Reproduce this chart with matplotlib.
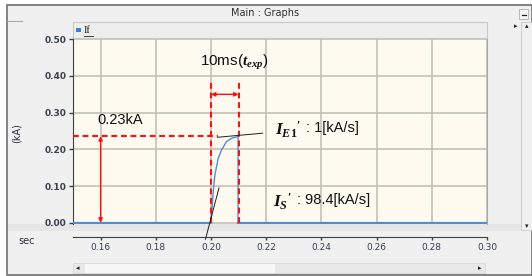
import matplotlib
matplotlib.use("Agg")
import matplotlib.pyplot as plt
from matplotlib import font_manager as fm
from matplotlib.patches import Rectangle

# ---------------- data ----------------
x_ticks = [0.16, 0.18, 0.20, 0.22, 0.24, 0.26, 0.28, 0.30]
x_tick_labels = ["0.16", "0.18", "0.20", "0.22", "0.24", "0.26", "0.28", "0.30"]
y_ticks = [0.0, 0.1, 0.2, 0.3, 0.4, 0.5]
y_tick_labels = ["0.00", "0.10", "0.20", "0.30", "0.40", "0.50"]

# If waveform (kA vs sec)
t_base1 = [0.15, 0.200]
i_base1 = [0.0, 0.0]
t_pulse = [0.2000, 0.2008, 0.2014, 0.2026, 0.2038, 0.2056, 0.2074, 0.2092, 0.2098, 0.2098]
i_pulse = [0.000, 0.084, 0.130, 0.175, 0.198, 0.221, 0.230, 0.234, 0.236, 0.000]
t_base2 = [0.2098, 0.30]
i_base2 = [0.0, 0.0]

peak_kA = 0.236
t_exp_start, t_exp_end = 0.200, 0.210
dashed_top = 0.386
arrow_t_y = 0.35
peak_arrow_x = 0.16
tangent1_t = [0.2024, 0.2187]
tangent1_i = [0.233, 0.244]
tangent2_t = [0.2029, 0.1980]
tangent2_i = [0.095, -0.045]

# ---------------- fonts ----------------
names = {f.name for f in fm.fontManager.ttflist}
narrow = "Liberation Sans Narrow" in names
ann_family = "Liberation Sans Narrow" if narrow else "Liberation Sans"
ann_size = 12 if narrow else 10.5
math_size = 12.5
plt.rcParams["mathtext.fontset"] = "custom"
plt.rcParams["mathtext.it"] = "Liberation Serif:italic:bold"
plt.rcParams["mathtext.rm"] = "Liberation Serif:bold"
plt.rcParams["mathtext.bf"] = "Liberation Serif:bold"

W, H = 532, 276
fig = plt.figure(figsize=(W / 100, H / 100), dpi=100, facecolor="white")

# ---------------- window chrome (pixel coords) ----------------
bg = fig.add_axes([0, 0, 1, 1], zorder=-10)
bg.set_xlim(0, W)
bg.set_ylim(H, 0)
bg.axis("off")
bg.add_patch(Rectangle((7, 5), W - 7, 270, facecolor="#F0F0F0", edgecolor="#6E6E6E", lw=1.2))
bg.text(265, 13, "Main : Graphs", ha="center", va="center", fontsize=7, color="#303030")
bg.plot([7, 22], [20.5, 20.5], color="#A8A8A8", lw=0.8)
# minimize button
bg.add_patch(Rectangle((519, 9), 9, 10, facecolor="#F6F6F6", edgecolor="#B8B8B8", lw=0.7))
bg.plot([521.5, 525.5], [14.5, 14.5], color="#202020", lw=0.9)
# legend strip
bg.add_patch(Rectangle((73, 22), 414, 16, facecolor="#EEEEEE", edgecolor="#C8C8C8", lw=0.8))
bg.add_patch(Rectangle((76, 28), 5, 4, facecolor="#3C7FD6", edgecolor="none"))
bg.text(84, 30.5, "If", fontsize=7.5, family="Liberation Serif", color="#202020", va="center", ha="left")
bg.plot([84, 93], [35.5, 35.5], color="#202020", lw=0.6)
bg.text(516, 26, "\u25B8", fontsize=5, ha="center", va="center", color="#202020")
# right scrollbar
bg.add_patch(Rectangle((521, 22), 11, 208, facecolor="#F0F0F0", edgecolor="#D0D0D0", lw=0.8))
bg.text(527, 26, "\u25B4", fontsize=5, ha="center", va="center", color="#202020")
bg.text(527, 226, "\u25BE", fontsize=5, ha="center", va="center", color="#202020")
# band below plot
bg.add_patch(Rectangle((8, 224), 513, 7, facecolor="#E6E6E6", edgecolor="none"))
# bottom scrollbar
bg.add_patch(Rectangle((73, 263), 412, 10, facecolor="#E8E8E8", edgecolor="#D8D8D8", lw=0.6))
bg.add_patch(Rectangle((85, 263.5), 190, 9, facecolor="#F7F7F7", edgecolor="none"))
bg.text(78, 268, "\u25C2", fontsize=5, ha="center", va="center", color="#202020")
bg.text(480, 268, "\u25B8", fontsize=5, ha="center", va="center", color="#202020")
bg.text(17, 133, "(kA)", rotation=90, fontsize=7, ha="center", va="center", color="#303040")
bg.text(27, 241, "sec", fontsize=7, ha="center", va="center", color="#303040")

# ---------------- main plot ----------------
px_top, px_bot, px_left, px_right = 38.5, 224, 73, 487
ax = fig.add_axes([px_left / W, 1 - px_bot / H, (px_right - px_left) / W, (px_bot - px_top) / H])
ax.set_facecolor("#FFFAF0")
ax.set_xlim(0.15, 0.30)
ax.set_ylim(-0.0035, 0.5022)

ax.set_xticks(x_ticks)
ax.set_xticklabels(x_tick_labels, fontweight="bold")
ax.set_yticks(y_ticks)
ax.set_yticklabels(y_tick_labels, fontweight="bold")
ax.grid(True, color="#C0BCB2", lw=1.1)
ax.set_axisbelow(True)
ax.tick_params(axis="both", labelsize=6.5, labelcolor="#3A4050", color="#404040")
ax.tick_params(axis="y", direction="out", length=3, width=1, pad=1.5)
ax.tick_params(axis="x", direction="out", length=2.5, width=1, pad=2)
ax.spines["top"].set_visible(False)
ax.spines["right"].set_color("#A8A8A8")
ax.spines["left"].set_color("#404040")
ax.spines["bottom"].set_position(("outward", 9))
ax.spines["bottom"].set_color("#404040")

blue = "#4A8EDB"
ax.plot(t_base1, i_base1, color=blue, lw=1.6, zorder=3)
ax.plot(t_base2, i_base2, color=blue, lw=1.6, zorder=3)
ax.plot(t_pulse, i_pulse, color=blue, lw=1.0, zorder=3)

red = "#FF1010"
dash = (0, (2.8, 1.8))
ax.plot([0.15, tangent1_t[0] + 0.0001], [peak_kA, peak_kA], color=red, lw=1.5, ls=dash, zorder=4)
ax.plot([t_exp_start, t_exp_start], [0, dashed_top], color=red, lw=1.5, ls=dash, zorder=4)
ax.plot([t_exp_end, t_exp_end], [0, dashed_top], color=red, lw=1.5, ls=dash, zorder=4)

ax.annotate("", xy=(t_exp_start, arrow_t_y), xytext=(t_exp_end, arrow_t_y),
            arrowprops=dict(arrowstyle="<|-|>", color=red, lw=1.0, mutation_scale=6,
                            shrinkA=0, shrinkB=0), zorder=5)
ax.annotate("", xy=(peak_arrow_x, 0.0), xytext=(peak_arrow_x, peak_kA),
            arrowprops=dict(arrowstyle="<|-|>", color=red, lw=1.0, mutation_scale=6,
                            shrinkA=0, shrinkB=0), zorder=5)

ax.plot(tangent1_t, tangent1_i, color="#202020", lw=0.7, zorder=5, clip_on=False)
ax.plot(tangent2_t, tangent2_i, color="#202020", lw=0.7, zorder=5, clip_on=False)

ax.text(0.1959, 0.438, r"10ms($t_{exp}$)", family=ann_family, fontsize=ann_size + 0.5,
        va="center", ha="left", color="#111111")
ax.text(0.1587, 0.280, "0.23kA", family=ann_family, fontsize=ann_size,
        va="center", ha="left", color="#111111")
ax.text(0.2231, 0.252, r"$I_{E1}{}^{\prime}$", family=ann_family, fontsize=math_size,
        va="center", ha="left", color="#111111")
ax.text(0.2344, 0.258, ": 1[kA/s]", family=ann_family, fontsize=ann_size,
        va="center", ha="left", color="#111111")
ax.text(0.2223, 0.056, r"$I_{S}{}^{\prime}$", family=ann_family, fontsize=math_size,
        va="center", ha="left", color="#111111")
ax.text(0.2312, 0.062, ": 98.4[kA/s]", family=ann_family, fontsize=ann_size,
        va="center", ha="left", color="#111111")

fig.savefig("out.png", dpi=100, facecolor="white")
